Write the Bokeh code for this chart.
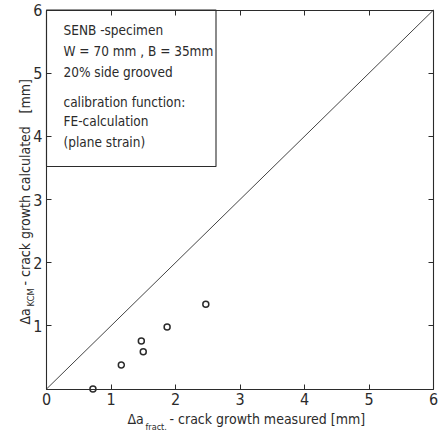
import math
from bokeh.plotting import figure
from bokeh.models import LinearAxis, FixedTicker, Label, Range1d
from bokeh.embed import file_html
from bokeh.resources import INLINE

# data
x_measured = [0.72, 1.16, 1.47, 1.50, 1.87, 2.47]
y_calculated = [0.0, 0.38, 0.76, 0.59, 0.98, 1.34]
ticks = [0, 1, 2, 3, 4, 5, 6]
axis_min, axis_max = 0, 6
diag_x = [0, 6]
diag_y = [0, 6]

box_lines = ["SENB -specimen", "W = 70 mm , B = 35mm", "20% side grooved",
             "calibration function:", "FE-calculation", "(plane strain)"]

FONT = "DejaVu Sans Condensed"
INK = "#2b2b2b"

# pixel layout of the axes box inside the canvas
PL, PR, PT, PB = 46, 433, 9.5, 388.5
W, H = 442, 434


def dx(px):
    return (px - PL) / ((PR - PL) / (axis_max - axis_min)) + axis_min


def dy(py):
    return (PB - py) / ((PB - PT) / (axis_max - axis_min)) + axis_min


p = figure(width=W, height=H,
           x_range=Range1d(dx(0), dx(W)), y_range=Range1d(dy(H), dy(0)),
           output_backend="svg", toolbar_location=None,
           min_border_left=0, min_border_right=0,
           min_border_top=0, min_border_bottom=0)
p.grid.visible = False
p.outline_line_color = None
p.background_fill_color = "white"
p.border_fill_color = "white"


def style_axis(ax, loc, show_labels=True):
    ax.fixed_location = loc
    ax.bounds = (axis_min, axis_max)
    ax.ticker = FixedTicker(ticks=ticks)
    ax.major_tick_in = 5
    ax.major_tick_out = 0
    ax.minor_tick_line_color = None
    ax.axis_line_color = INK
    ax.axis_line_width = 1.1
    ax.major_tick_line_color = INK
    if show_labels:
        ax.major_label_text_font = FONT
        ax.major_label_text_font_size = "16px"
        ax.major_label_text_color = INK
        ax.major_label_standoff = 4
    else:
        ax.major_label_text_font_size = "0px"
        ax.major_label_standoff = 0


style_axis(p.xaxis[0], axis_min)
style_axis(p.yaxis[0], axis_min)
p.yaxis[0].major_label_overrides = {0: ""}
top = LinearAxis()
style_axis(top, axis_max, False)
right = LinearAxis()
style_axis(right, axis_max, False)
p.add_layout(top, "above")
p.add_layout(right, "right")

# legend box
p.quad(left=axis_min, right=dx(215.5), bottom=dy(166), top=axis_max,
       fill_color="white", line_color=INK, line_width=1.1)

box_y = [29, 50, 71, 101, 120, 141]
for txt, yy in zip(box_lines, box_y):
    p.add_layout(Label(x=dx(63), y=dy(yy), text=txt, text_font=FONT,
                       text_font_size="13.5px", text_color=INK,
                       text_baseline="middle", text_align="left"))

# diagonal
p.line(diag_x, diag_y, line_color="#444444", line_width=1)

# points
p.scatter(x_measured, y_calculated, marker="circle", size=6,
          fill_color="white", line_color=INK, line_width=1.5)


def px_label(px, py, text, size, angle=0.0):
    p.add_layout(Label(x=dx(px), y=dy(py), text=text, text_font=FONT,
                       text_font_size=size, text_color=INK, angle=angle,
                       text_baseline="middle", text_align="left"))


# x title
px_label(127, 418, "Δa", "14px")
px_label(145, 426, "fract.", "9px")
px_label(169, 418, "- crack growth measured [mm]", "14px")

# y title (rotated)
rot = math.pi / 2
px_label(24, 324, "Δa", "14px", rot)
px_label(30, 306, "KCM", "9.5px", rot)
px_label(24, 285, "- crack growth calculated", "14px", rot)
px_label(24, 113, "[mm]", "14px", rot)

open("out.html", "w").write(file_html(p, INLINE))
